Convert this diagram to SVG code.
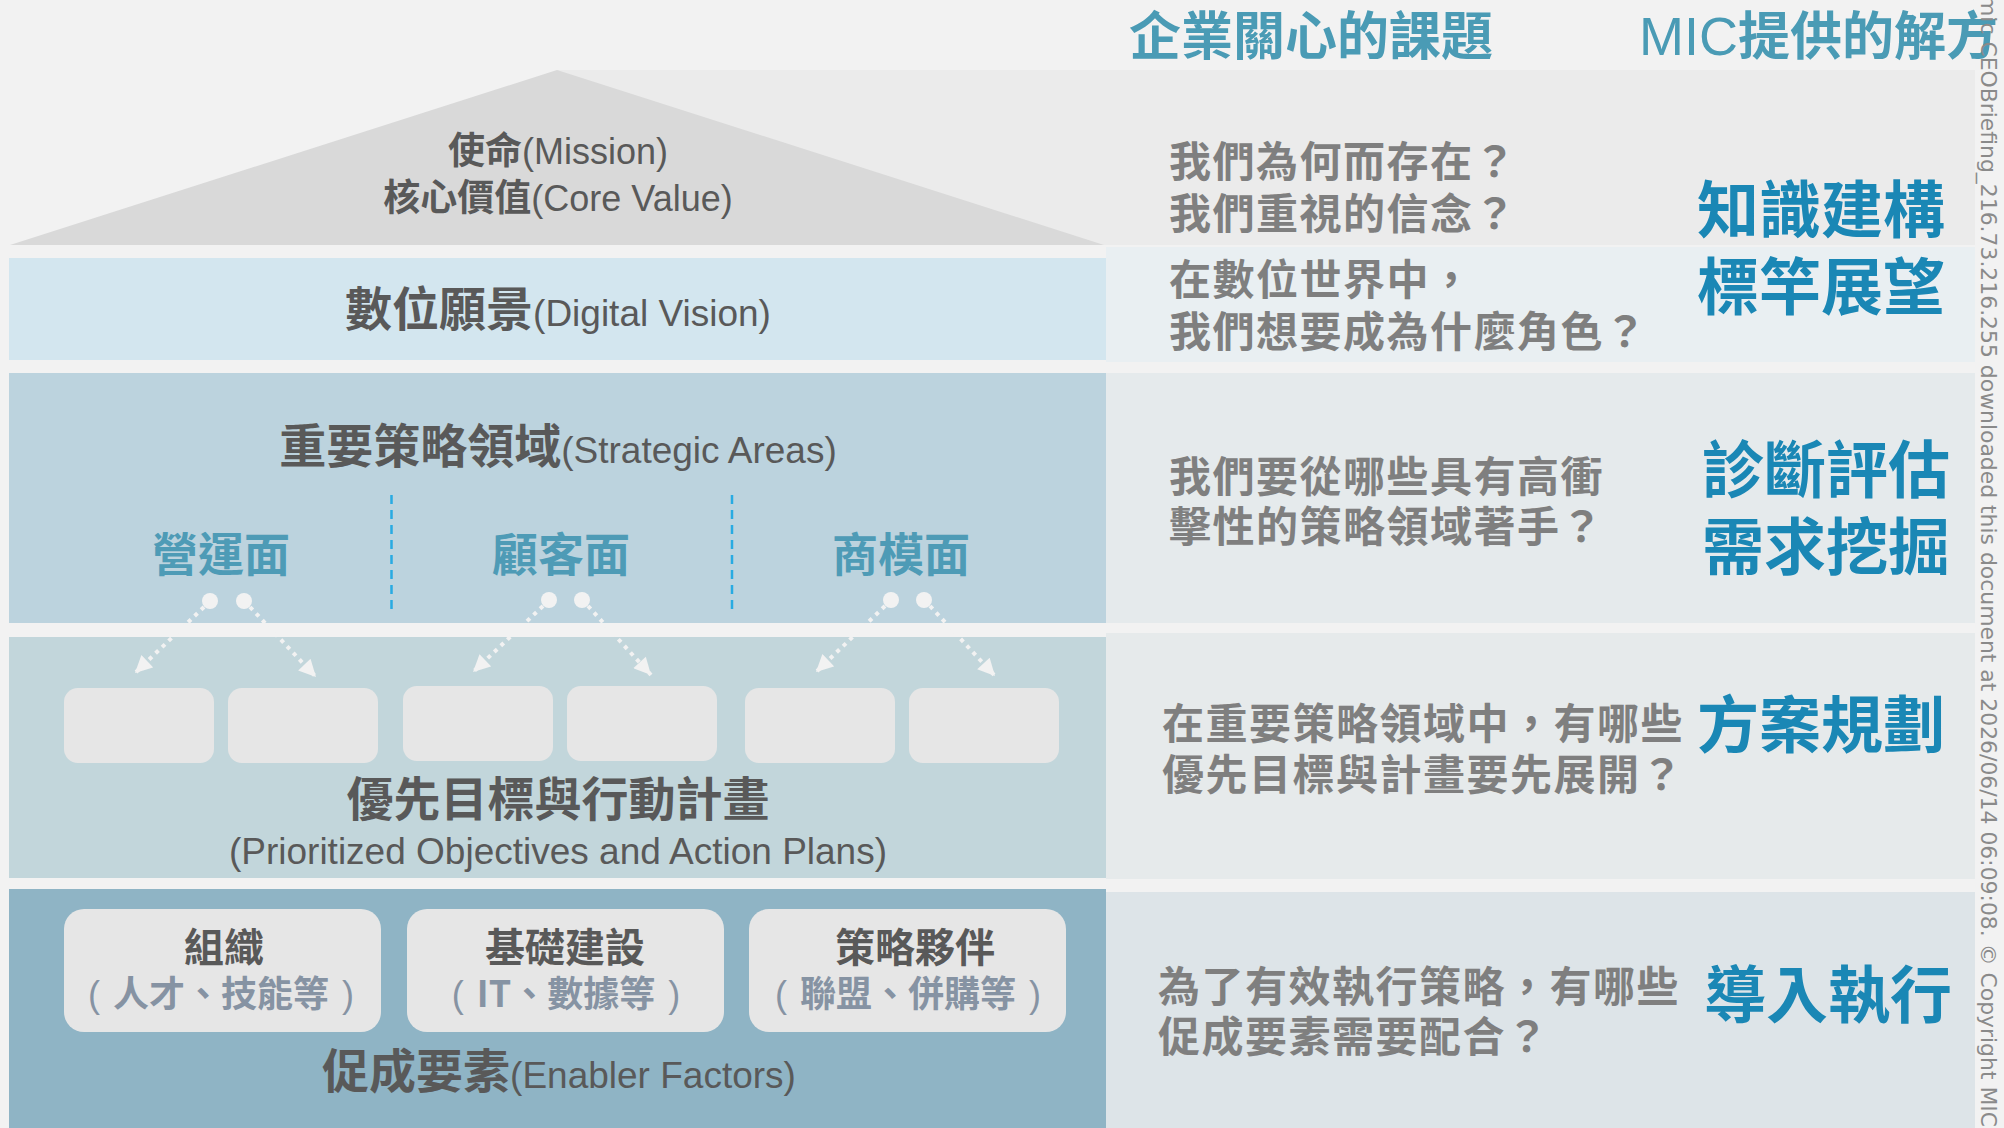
<svg xmlns="http://www.w3.org/2000/svg" width="2004" height="1128" viewBox="0 0 2004 1128">
<defs>
<style>
.zh{font-family:"Noto Sans CJK TC","Liberation Sans",sans-serif}
.en{font-family:"Liberation Sans","Noto Sans CJK TC",sans-serif}
.main{fill:#595959;text-anchor:middle}
.tz{font-family:"Noto Sans CJK TC",sans-serif;font-weight:bold;font-size:47px}
.te{font-family:"Liberation Sans",sans-serif;font-weight:normal;font-size:37px}
.area{font-family:"Noto Sans CJK TC",sans-serif;font-weight:bold;font-size:46px;fill:#4e9bb6;text-anchor:middle}
.q{font-family:"Noto Sans CJK TC",sans-serif;font-weight:bold;font-size:42px;fill:#7f7f7f;letter-spacing:1.5px}
.sol{font-family:"Noto Sans CJK TC",sans-serif;font-weight:bold;font-size:62px;fill:#1a87b5}
.hdr{font-family:"Noto Sans CJK TC",sans-serif;font-weight:bold;font-size:52px;fill:#4a9bb5}
.box{fill:#e6e6e6}
.etitle{font-family:"Noto Sans CJK TC",sans-serif;font-weight:bold;font-size:40px;fill:#595959;text-anchor:middle}
.esub{font-family:"Noto Sans CJK TC",sans-serif;font-weight:bold;font-size:36px;fill:#8693a3;text-anchor:middle}
.par{font-family:"Liberation Sans",sans-serif;font-weight:normal}
.dot{fill:#f2f2f2}
.arr{stroke:#f2f2f2;stroke-width:4;stroke-dasharray:4 5;fill:none}
.sep{stroke:#29abe2;stroke-width:2.5;stroke-dasharray:9 6;fill:none}
</style>
<marker id="ah" viewBox="0 0 10 10" refX="10" refY="5" markerUnits="userSpaceOnUse" markerWidth="18" markerHeight="17" orient="auto">
<path d="M0,0 L10,5 L0,10 z" fill="#f2f2f2"/>
</marker>
</defs>

<rect x="0" y="0" width="2004" height="1128" fill="#f2f2f2"/>

<g id="panels">
<rect x="557" y="70" width="1418" height="175" fill="#ebebeb"/>
<rect x="1106" y="247" width="869" height="115" fill="#e9eff2"/>
<rect x="1106" y="373" width="869" height="250" fill="#e5eaec"/>
<rect x="1106" y="633" width="869" height="246" fill="#e6eaeb"/>
<rect x="1106" y="892" width="869" height="236" fill="#dde4e8"/>
</g>

<g id="roof">
<polygon points="10,245 557,70 1104,245" fill="#d9d9d9"/>
<text class="en main" x="558" y="164" font-size="36"><tspan class="zh" font-weight="bold" font-size="37">使命</tspan>(Mission)</text>
<text class="en main" x="558" y="211" font-size="36"><tspan class="zh" font-weight="bold" font-size="37">核心價值</tspan>(Core Value)</text>
</g>

<g id="vision">
<rect x="9" y="258" width="1097" height="102" fill="#d3e6ef"/>
<text class="main" x="558" y="326"><tspan class="tz">數位願景</tspan><tspan class="te">(Digital Vision)</tspan></text>
</g>

<g id="strategy">
<rect x="9" y="373" width="1097" height="250" fill="#bcd3de"/>
<text class="main" x="558" y="463"><tspan class="tz">重要策略領域</tspan><tspan class="te">(Strategic Areas)</tspan></text>
<line class="sep" x1="391.5" y1="495" x2="391.5" y2="610"/>
<line class="sep" x1="732" y1="495" x2="732" y2="610"/>
</g>

<g id="area-operations">
<text class="area" x="221" y="571">營運面</text>
<circle class="dot" cx="210" cy="601" r="8"/>
<circle class="dot" cx="244" cy="601" r="8"/>
</g>
<g id="area-customer">
<text class="area" x="561" y="571">顧客面</text>
<circle class="dot" cx="549" cy="600" r="8"/>
<circle class="dot" cx="582" cy="600" r="8"/>
</g>
<g id="area-business-model">
<text class="area" x="901" y="571">商模面</text>
<circle class="dot" cx="891" cy="600" r="8"/>
<circle class="dot" cx="924" cy="600" r="8"/>
</g>

<g id="objectives">
<rect x="9" y="637" width="1097" height="241" fill="#c2d6db"/>
<text class="main tz" x="558" y="816">優先目標與行動計畫</text>
<text class="main te" x="558" y="864">(Prioritized Objectives and Action Plans)</text>
</g>
<g id="objective-box-1"><rect class="box" x="64" y="688" width="150" height="75" rx="14"/></g>
<g id="objective-box-2"><rect class="box" x="228" y="688" width="150" height="75" rx="14"/></g>
<g id="objective-box-3"><rect class="box" x="403" y="686" width="150" height="75" rx="14"/></g>
<g id="objective-box-4"><rect class="box" x="567" y="686" width="150" height="75" rx="14"/></g>
<g id="objective-box-5"><rect class="box" x="745" y="688" width="150" height="75" rx="14"/></g>
<g id="objective-box-6"><rect class="box" x="909" y="688" width="150" height="75" rx="14"/></g>

<g id="connectors">
<line class="arr" x1="204" y1="607" x2="135" y2="673" marker-end="url(#ah)"/>
<line class="arr" x1="250" y1="607" x2="316" y2="677" marker-end="url(#ah)"/>
<line class="arr" x1="543" y1="606" x2="473" y2="672" marker-end="url(#ah)"/>
<line class="arr" x1="588" y1="606" x2="651" y2="675" marker-end="url(#ah)"/>
<line class="arr" x1="885" y1="606" x2="816" y2="672" marker-end="url(#ah)"/>
<line class="arr" x1="930" y1="606" x2="995" y2="676" marker-end="url(#ah)"/>
</g>

<g id="enablers">
<rect x="9" y="889" width="1097" height="239" fill="#8fb4c5"/>
<text class="main" x="559" y="1088"><tspan class="tz">促成要素</tspan><tspan class="te">(Enabler Factors)</tspan></text>
</g>
<g id="enabler-organization">
<rect class="box" x="64" y="909" width="317" height="123" rx="20"/>
<text class="etitle" x="224" y="962">組織</text>
<text class="esub" x="221" y="1007"><tspan class="par">(</tspan><tspan dx="13">人才、技能等</tspan><tspan class="par" dx="13">)</tspan></text>
</g>
<g id="enabler-infrastructure">
<rect class="box" x="407" y="909" width="317" height="123" rx="20"/>
<text class="etitle" x="565" y="962">基礎建設</text>
<text class="esub" x="566" y="1007"><tspan class="par">(</tspan><tspan dx="13">IT、數據等</tspan><tspan class="par" dx="13">)</tspan></text>
</g>
<g id="enabler-partners">
<rect class="box" x="749" y="909" width="317" height="123" rx="20"/>
<text class="etitle" x="915" y="962">策略夥伴</text>
<text class="esub" x="908" y="1007"><tspan class="par">(</tspan><tspan dx="13">聯盟、併購等</tspan><tspan class="par" dx="13">)</tspan></text>
</g>

<g id="headers">
<text class="hdr" x="1129" y="55">企業關心的課題</text>
<text class="hdr" x="1639" y="55"><tspan font-family="Liberation Sans, sans-serif" font-weight="normal" font-size="54">MIC</tspan>提供的解方</text>
</g>

<g id="question-mission">
<text class="q" x="1169" y="177">我們為何而存在？</text>
<text class="q" x="1169" y="229">我們重視的信念？</text>
</g>
<g id="question-vision">
<text class="q" x="1169" y="295">在數位世界中，</text>
<text class="q" x="1169" y="347">我們想要成為什麼角色？</text>
</g>
<g id="solution-knowledge">
<text class="sol" x="1697" y="233">知識建構</text>
<text class="sol" x="1697" y="310">標竿展望</text>
</g>
<g id="question-strategy">
<text class="q" x="1169" y="492">我們要從哪些具有高衝</text>
<text class="q" x="1169" y="542">擊性的策略領域著手？</text>
</g>
<g id="solution-diagnosis">
<text class="sol" x="1702" y="493">診斷評估</text>
<text class="sol" x="1702" y="570">需求挖掘</text>
</g>
<g id="question-objectives">
<text class="q" x="1162" y="739">在重要策略領域中，有哪些</text>
<text class="q" x="1162" y="790">優先目標與計畫要先展開？</text>
</g>
<g id="solution-planning">
<text class="sol" x="1697" y="748">方案規劃</text>
</g>
<g id="question-enablers">
<text class="q" x="1158" y="1002">為了有效執行策略，有哪些</text>
<text class="q" x="1158" y="1052">促成要素需要配合？</text>
</g>
<g id="solution-implementation">
<text class="sol" x="1704" y="1018">導入執行</text>
</g>

<g id="watermark">
<text transform="translate(1981,-5) rotate(90)" font-family="DejaVu Sans, sans-serif" font-size="21.9" fill="#8a8a8a">mic CEOBriefing_216.73.216.255 downloaded this document at 2026/06/14 06:09:08. © Copyright MIC</text>
</g>
</svg>
